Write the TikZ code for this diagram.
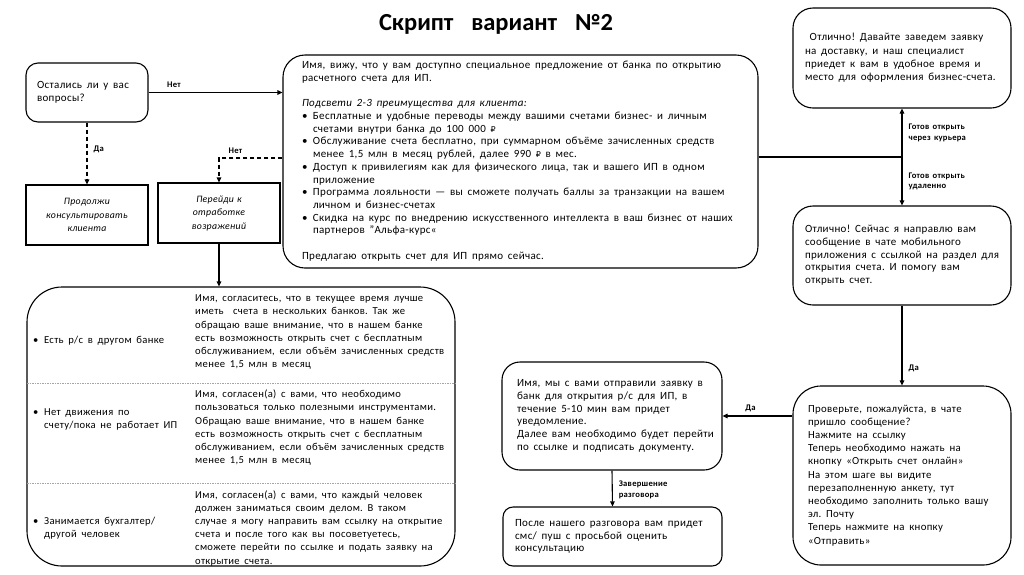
\documentclass[tikz,border=0pt]{standalone}
\usepackage{fontspec}
\setmainfont{Carlito}[LetterSpace=3, WordSpace=2]
\newfontfamily\titlefont{Carlito}[WordSpace=1.6]
\newfontfamily\lblfont{Carlito}[LetterSpace=3, WordSpace=1.5]
\newfontfamily\symfont{DejaVu Sans}
\usetikzlibrary{arrows.meta,calc}
\newcommand{\bul}{\makebox[11pt][l]{•}}
\newcommand{\ind}{\hspace*{11pt}}
\newcommand{\rub}{{\symfont\fontsize{8}{10}\selectfont ₽}}
\newcommand{\tb}[1]{{\spaceskip=4.7pt plus 1pt minus 0.5pt\relax\xspaceskip=\spaceskip\begin{tabular}{@{}l@{}}#1\end{tabular}}}
\begin{document}
\begin{tikzpicture}[x=1pt,y=-1pt,
  every node/.style={font=\fontsize{11}{12.7}\selectfont, inner sep=0pt},
  rbox/.style={draw, line width=1.1pt, rounded corners=#1, align=left},
  sbox/.style={draw, line width=1.1pt, align=center, font=\fontsize{9.8}{13.5}\selectfont\itshape},
  tcell/.style={anchor=west, font=\fontsize{10.6}{13.2}\selectfont},
  lbl/.style={font=\lblfont\fontsize{8.6}{10.5}\selectfont\bfseries, align=left},
  arr/.style={line width=1.1pt, -{Triangle[length=5pt,width=4.5pt]}},
  darr/.style={arr, dash pattern=on 4pt off 3pt},
  sep/.style={gray!70, line width=0.7pt, dash pattern=on 1.5pt off 1pt}
]
\useasboundingbox (0,0) rectangle (1024,574);

\node[font=\titlefont\fontsize{24.5}{28}\selectfont\bfseries] (title) at (496,24) {Скрипт\ \ вариант\ \ №2};

% left top
\node[rbox=12pt, minimum width=122pt, minimum height=59pt, text width=100pt, inner xsep=11pt] (q) at (87,92.5)
  {\tb{Остались ли у вас\\вопросы?}};
\node[sbox, minimum width=122pt, minimum height=60pt, text width=110pt, inner xsep=6pt] (cont) at (87,215)
  {Продолжи\\консультировать\\клиента};
\node[sbox, minimum width=122pt, minimum height=60pt, text width=110pt, inner xsep=6pt] (obj) at (219,213)
  {Перейди к\\отработке\\возражений};

% central
\node[rbox=22pt, minimum width=475pt, minimum height=213pt, text width=437pt, inner xsep=19pt] (main) at (520.5,161.5)
  {\tb{Имя, вижу, что у вам доступно специальное предложение от банка по открытию\\
   расчетного счета для ИП.\\[12.7pt]
   \textit{Подсвети 2-3 преимущества для клиента:}\\
   \bul Бесплатные и удобные переводы между вашими счетами бизнес- и личным\\
   \ind счетами внутри банка до 100 000 \rub\\
   \bul Обслуживание счета бесплатно, при суммарном объёме зачисленных средств\\
   \ind менее 1,5 млн в месяц рублей, далее 990 \rub{} в мес.\\
   \bul Доступ к привилегиям как для физического лица, так и вашего ИП в одном\\
   \ind приложение\\
   \bul Программа лояльности — вы сможете получать баллы за транзакции на вашем\\
   \ind личном и бизнес-счетах\\
   \bul Скидка на курс по внедрению искусственного интеллекта в ваш бизнес от наших\\
   \ind партнеров "Альфа-курс«\\[12.7pt]
   Предлагаю открыть счет для ИП прямо сейчас.}};

% right column
\node[rbox=20pt, minimum width=218pt, minimum height=100pt, text width=194pt, inner xsep=12pt, font=\fontsize{11}{13.3}\selectfont] (courier) at (902,58)
  {\tb{\ Отлично! Давайте заведем заявку\\на доставку, и наш специалист\\приедет к вам в удобное время и\\место для оформления бизнес-счета.}};
\node[rbox=20pt, minimum width=218pt, minimum height=99pt, text width=194pt, inner xsep=12pt] (remote) at (902,255.5)
  {\tb{Отлично! Сейчас я направлю вам\\сообщение в чате мобильного\\приложения с ссылкой на раздел для\\открытия счета. И помогу вам\\открыть счет.}};
\node[rbox=28pt, minimum width=218pt, minimum height=179pt, text width=188pt, inner xsep=15pt, font=\fontsize{10.8}{13.2}\selectfont] (check) at (902,475.5)
  {\tb{Проверьте, пожалуйста, в чате\\пришло сообщение?\\Нажмите на ссылку\\Теперь необходимо нажать на\\кнопку «Открыть счет онлайн»\\На этом шаге вы видите\\перезаполненную анкету, тут\\необходимо заполнить только вашу\\эл. Почту\\Теперь нажмите на кнопку\\«Отправить»}};

% bottom middle
\node[rbox=18pt, minimum width=220pt, minimum height=108pt, text width=190pt, inner xsep=15pt] (sent) at (612,416)
  {\tb{Имя, мы с вами отправили заявку в\\банк для открытия р/с для ИП, в\\течение 5-10 мин вам придет\\уведомление.\\Далее вам необходимо будет перейти\\по ссылке и подписать документу.}};
\node[rbox=10pt, minimum width=219pt, minimum height=59pt, text width=195pt, inner xsep=12pt] (rate) at (612.5,536.5)
  {\tb{После нашего разговора вам придет\\смс/ пуш с просьбой оценить\\консультацию}};

% objections table
\node[draw, line width=1.1pt, rounded corners=35pt, minimum width=428pt, minimum height=279pt] (tbl) at (241,426.5) {};
\draw[sep] (27,383) -- (455,383);
\draw[sep] (27,483) -- (455,483);
\node[tcell] (r1l) at (33,341) {\tb{\bul Есть р/с в другом банке}};
\node[tcell] (r2l) at (33,419) {\tb{\bul Нет движения по\\\ind счету/пока не работает ИП}};
\node[tcell] (r3l) at (33,528.5) {\tb{\bul Занимается бухгалтер/\\\ind другой человек}};
\node[tcell] (r1r) at (195,332)
  {\tb{Имя, согласитесь, что в текущее время лучше\\иметь\ \ счета в нескольких банков. Так же\\обращаю ваше внимание, что в нашем банке\\есть возможность открыть счет с бесплатным\\обслуживанием, если объём зачисленных средств\\менее 1,5 млн в месяц}};
\node[tcell] (r2r) at (195,428)
  {\tb{Имя, согласен(а) с вами, что необходимо\\пользоваться только полезными инструментами.\\Обращаю ваше внимание, что в нашем банке\\есть возможность открыть счет с бесплатным\\обслуживанием, если объём зачисленных средств\\менее 1,5 млн в месяц}};
\node[tcell] (r3r) at (195,528.5)
  {\tb{Имя, согласен(а) с вами, что каждый человек\\должен заниматься своим делом. В таком\\случае я могу направить вам ссылку на открытие\\счета и после того как вы посоветуетесь,\\сможете перейти по ссылке и подать заявку на\\открытие счета.}};

% connectors
\draw[arr] (q.east) -- node[lbl, above=4pt, pos=0.19] {Нет} (q.east -| main.west);
\draw[darr] (q.south) -- node[lbl, right=6pt, pos=0.44] {Да} (cont.north);
\draw[darr] ([yshift=3.5pt]main.west) -| node[lbl, above=4pt, pos=0.37] {Нет} (obj.north);
\draw[arr] (obj.south) -- (obj.south |- tbl.north);
\coordinate (fork) at ($(courier.south)!0.5!(remote.north)$);
\draw[line width=1.1pt] (main.east |- fork) -- (fork);
\draw[arr] (fork) -- node[lbl, right=6pt, pos=0.5] {Готов открыть\\через курьера} (courier.south);
\draw[arr] (fork) -- node[lbl, right=6pt, pos=0.5] {Готов открыть\\удаленно} (remote.north);
\draw[arr] (remote.south) -- node[lbl, right=6pt, pos=0.79] {Да} (check.north);
\draw[arr] (sent.east -| check.west) -- node[lbl, above=4pt, pos=0.6] {Да} (sent.east);
\draw[arr] (sent.south) -- node[lbl, right=6pt, pos=0.54] {Завершение\\разговора} (rate.north);
\end{tikzpicture}
\end{document}
